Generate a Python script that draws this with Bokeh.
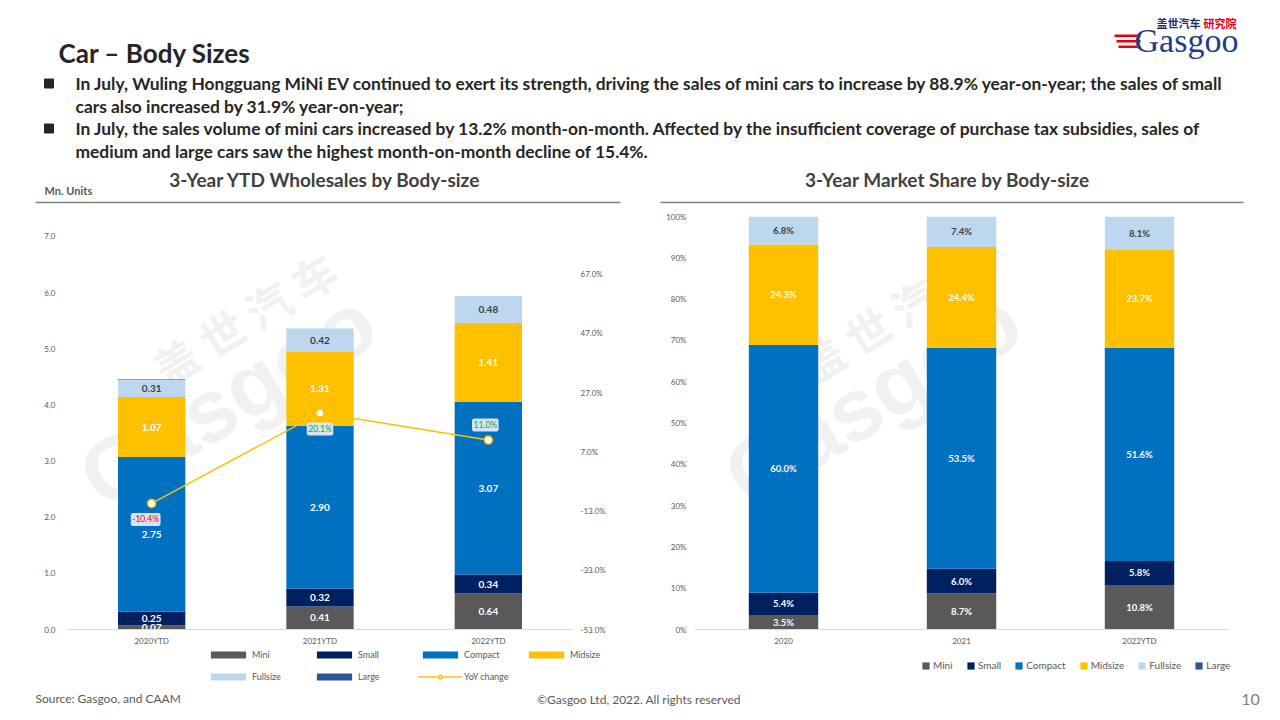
import numpy as np
from bokeh.plotting import figure
from bokeh.layouts import column, row
from bokeh.models import (ColumnDataSource, FactorRange, Range1d, LinearAxis, FixedTicker,
                          PrintfTickFormatter, Legend, LegendItem, LabelSet, Label)
from bokeh.embed import file_html
from bokeh.resources import INLINE
from bokeh.core.properties import value

# ---------------- data ----------------
segments = ["Mini", "Small", "Compact", "Midsize", "Fullsize", "Large"]
colors = ["#595959", "#002060", "#0070c0", "#ffc000", "#bdd7ee", "#2f5597"]

years_l = ["2020YTD", "2021YTD", "2022YTD"]
mini = [0.07, 0.41, 0.64]
small = [0.25, 0.32, 0.34]
compact = [2.75, 2.90, 3.07]
midsize = [1.07, 1.31, 1.41]
fullsize = [0.31, 0.42, 0.48]
large = [0.01, 0.0, 0.0]
yoy = [-10.4, 20.1, 11.0]
yoy_ticks = [-53, -33, -13, 7, 27, 47, 67]
units_ticks = [0, 1, 2, 3, 4, 5, 6, 7]

years_r = ["2020", "2021", "2022YTD"]
mini_s = [3.5, 8.7, 10.8]
small_s = [5.4, 6.0, 5.8]
compact_s = [60.0, 53.5, 51.6]
midsize_s = [24.3, 24.4, 23.7]
fullsize_s = [6.8, 7.4, 8.1]
large_s = [0.0, 0.0, 0.0]
share_ticks = [0, 10, 20, 30, 40, 50, 60, 70, 80, 90, 100]

FONT = "Lato"
GRAY = "#595959"
DARK = "#404040"
WM = "#f1f1f1"


def base_fig(w, h, **kw):
    p = figure(width=w, height=h, output_backend="svg", toolbar_location=None, **kw)
    p.outline_line_color = None
    p.background_fill_color = "white"
    p.border_fill_color = "white"
    return p


def blank_fig(w, h, yr):
    p = base_fig(w, h, x_range=Range1d(0, w), y_range=Range1d(yr, 0),
                 x_axis_type=None, y_axis_type=None, min_border=0)
    p.xgrid.grid_line_color = None
    p.ygrid.grid_line_color = None
    return p


def style_axes(p):
    for ax in p.axis:
        ax.major_tick_line_color = None
        ax.minor_tick_line_color = None
        ax.major_tick_out = 0
        ax.major_tick_in = 0
        ax.minor_tick_out = 0
        ax.major_label_text_font = FONT
        ax.major_label_text_font_size = "8px"
        ax.major_label_text_color = GRAY
    p.xgrid.grid_line_color = None
    p.ygrid.grid_line_color = None


def seg_centers(vals):
    arr = np.array(vals, dtype=float)
    cum = np.cumsum(arr, axis=0)
    return arr, cum - arr / 2


# ---------------- header ----------------
header = blank_fig(1280, 205, 205)

header.add_layout(Label(x=58, y=52, text="Car – Body Sizes", text_font=FONT, text_font_style="bold",
                        text_font_size="26px", text_color="#262626", text_baseline="middle"))
bullets = [
    (83, "In July, Wuling Hongguang MiNi EV continued to exert its strength, driving the sales of mini cars to increase by 88.9% year-on-year; the sales of small", True),
    (106, "cars also increased by 31.9% year-on-year;", False),
    (128, "In July, the sales volume of mini cars increased by 13.2% month-on-month. Affected by the insufficient coverage of purchase tax subsidies, sales of", True),
    (151, "medium and  large cars saw the highest month-on-month decline of 15.4%.", False),
]
for yy, txt, mark in bullets:
    header.add_layout(Label(x=75, y=yy, text=txt, text_font=FONT, text_font_style="bold",
                            text_font_size="17.4px", text_color="#262626", text_baseline="middle"))
    if mark:
        header.scatter([48.5], [yy], marker="square", size=9, color="#262626")

header.add_layout(Label(x=327, y=179, text="3-Year YTD Wholesales  by Body-size", text_font=FONT,
                        text_font_style="bold", text_font_size="19px", text_color=DARK,
                        text_align="center", text_baseline="middle"))
header.add_layout(Label(x=947, y=179, text="3-Year Market Share by Body-size", text_font=FONT,
                        text_font_style="bold", text_font_size="19px", text_color=DARK,
                        text_align="center", text_baseline="middle"))
header.add_layout(Label(x=44, y=190, text="Mn. Units", text_font=FONT, text_font_style="bold",
                        text_font_size="11px", text_color=GRAY, text_baseline="middle"))
header.segment(x0=[35, 660], y0=[202, 202], x1=[620, 1243], y1=[202, 202], line_color="#7f7f7f", line_width=1.5)

# logo
header.add_layout(Label(x=1156, y=22, text="盖世汽车", text_font="Noto Sans CJK SC", text_font_style="bold",
                        text_font_size="11px", text_color="#1b2f6e", text_baseline="middle"))
header.add_layout(Label(x=1203, y=22, text="研究院", text_font="Noto Sans CJK SC", text_font_style="bold",
                        text_font_size="11px", text_color="#e60012", text_baseline="middle"))
header.add_layout(Label(x=1134, y=40, text="Gasgoo", text_font="Liberation Serif",
                        text_font_size="34px", text_color="#1f3c88", text_baseline="middle"))
header.quad(left=[1114, 1116, 1118], right=[1140, 1140, 1140], top=[34, 39.5, 45], bottom=[36.5, 42, 47.5],
            color="#e60012", line_color=None)

# ---------------- left chart ----------------
src_l = ColumnDataSource(dict(year=years_l, Mini=mini, Small=small, Compact=compact,
                              Midsize=midsize, Fullsize=fullsize, Large=large))
left = base_fig(640, 443, x_range=FactorRange(*years_l), y_range=Range1d(0, 7.355),
                min_border_left=67, min_border_right=68, min_border_top=11, min_border_bottom=18)
left.extra_y_ranges = {"yoy": Range1d(-53, 86.5)}

left.add_layout(Label(x=1.05, y=5.55, text="盖 世 汽 车", text_font="Noto Sans CJK SC", text_font_style="bold",
                      text_font_size="44px", text_color=WM, angle=0.55, text_align="center",
                      text_baseline="middle", level="underlay"))
left.add_layout(Label(x=0.95, y=4.1, text="Gasgoo", text_font="Liberation Sans", text_font_style="bold",
                      text_font_size="88px", text_color=WM, angle=0.55, text_align="center",
                      text_baseline="middle", level="underlay"))

bars_l = left.vbar_stack(segments, x="year", width=0.40, color=colors, line_color=None, source=src_l)

vals_l = [mini, small, compact, midsize, fullsize]
arr, cen = seg_centers(vals_l)
lx, ly, lt, lc = [], [], [], []
for i in range(len(vals_l)):
    for j, yr in enumerate(years_l):
        lx.append(yr)
        ly.append(cen[i][j])
        lt.append("%.2f" % arr[i][j])
        lc.append(DARK if i == 4 else "white")
left.add_layout(LabelSet(x="x", y="y", text="t", text_color="c", source=ColumnDataSource(dict(x=lx, y=ly, t=lt, c=lc)),
                         text_align="center", text_baseline="middle", text_font=value(FONT),
                         text_font_style="bold", text_font_size="10px"))

line_r = left.line(x=years_l, y=yoy, y_range_name="yoy", line_color="#ffc000", line_width=1.5)
pts_r = left.scatter(x=years_l, y=yoy, y_range_name="yoy", marker="circle", size=8, fill_color="white",
                     line_color="#ffc000", line_width=1.5)
yoy_src = ColumnDataSource(dict(x=years_l, y=yoy, t=["%.1f%%" % v for v in yoy],
                                c=["#ff0000" if v < 0 else "#00b050" for v in yoy],
                                off=[-16, -16, 15], xo=[-6, 0, -3]))
left.add_layout(LabelSet(x="x", y="y", text="t", text_color="c", y_offset="off", x_offset="xo",
                         y_range_name="yoy", source=yoy_src, text_align="center", text_baseline="middle",
                         text_font=value(FONT), text_font_size="8.5px", background_fill_color="#dae3f3",
                         border_line_color="#dae3f3", border_line_width=3))

left.yaxis.ticker = FixedTicker(ticks=units_ticks)
left.yaxis.formatter = PrintfTickFormatter(format="%.1f")
left.yaxis.axis_line_color = None
left.yaxis.major_label_standoff = 12
ax_r = LinearAxis(y_range_name="yoy", ticker=FixedTicker(ticks=yoy_ticks),
                  formatter=PrintfTickFormatter(format="%.1f%%"))
ax_r.axis_line_color = None
ax_r.major_label_standoff = 8
left.add_layout(ax_r, "right")
left.xaxis.axis_line_color = "#d9d9d9"
left.xaxis.major_label_standoff = 6
style_axes(left)

# ---------------- right chart ----------------
src_r = ColumnDataSource(dict(year=years_r, Mini=mini_s, Small=small_s, Compact=compact_s,
                              Midsize=midsize_s, Fullsize=fullsize_s, Large=large_s))
right = base_fig(640, 443, x_range=FactorRange(*years_r), y_range=Range1d(0, 100),
                 min_border_left=54, min_border_right=52, min_border_top=11, min_border_bottom=18)
right.add_layout(Label(x=1.1, y=76, text="盖 世 汽 车", text_font="Noto Sans CJK SC", text_font_style="bold",
                       text_font_size="44px", text_color=WM, angle=0.55, text_align="center",
                       text_baseline="middle", level="underlay"))
right.add_layout(Label(x=1.0, y=56, text="Gasgoo", text_font="Liberation Sans", text_font_style="bold",
                       text_font_size="88px", text_color=WM, angle=0.55, text_align="center",
                       text_baseline="middle", level="underlay"))
bars_r = right.vbar_stack(segments, x="year", width=0.39, color=colors, line_color=None, source=src_r)

vals_r = [mini_s, small_s, compact_s, midsize_s, fullsize_s]
arr, cen = seg_centers(vals_r)
rx, ry, rt, rc = [], [], [], []
for i in range(len(vals_r)):
    for j, yr in enumerate(years_r):
        rx.append(yr)
        ry.append(cen[i][j])
        rt.append("%.1f%%" % arr[i][j])
        rc.append(DARK if i == 4 else "white")
right.add_layout(LabelSet(x="x", y="y", text="t", text_color="c", source=ColumnDataSource(dict(x=rx, y=ry, t=rt, c=rc)),
                          text_align="center", text_baseline="middle", text_font=value(FONT),
                          text_font_style="bold", text_font_size="9.5px"))
right.yaxis.ticker = FixedTicker(ticks=share_ticks)
right.yaxis.formatter = PrintfTickFormatter(format="%d%%")
right.yaxis.axis_line_color = None
right.yaxis.major_label_standoff = 8
right.xaxis.axis_line_color = "#d9d9d9"
right.xaxis.major_label_standoff = 6
style_axes(right)

# ---------------- legend strips (swatch renderers kept off-canvas) ----------------
OFF = [-500]
leg_fig_l = blank_fig(640, 37, 37)
sw_l = [leg_fig_l.vbar(x=OFF, top=OFF, width=1, color=c, line_color=None) for c in colors]
sw_line = leg_fig_l.line(x=[-500, -490], y=[-500, -500], line_color="#ffc000", line_width=1.5)
sw_pts = leg_fig_l.scatter(x=OFF, y=OFF, marker="circle", size=8, fill_color="white",
                           line_color="#ffc000", line_width=1.5)
items_l = [LegendItem(label=s, renderers=[r]) for s, r in zip(segments, sw_l)]
items_l.append(LegendItem(label="YoY change", renderers=[sw_line, sw_pts]))
leg_l = Legend(items=items_l, orientation="horizontal", ncols=4, glyph_width=44, glyph_height=9,
               label_width=52, label_height=14, label_standoff=2, spacing=8, padding=0, margin=0,
               border_line_color=None, background_fill_alpha=0, label_text_font=FONT,
               label_text_font_size="9px", label_text_color=GRAY, location=(206, 2))
leg_fig_l.add_layout(leg_l, "center")

leg_fig_r = blank_fig(640, 37, 37)
sw_r = [leg_fig_r.vbar(x=OFF, top=OFF, width=1, color=c, line_color=None) for c in colors]
items_r = [LegendItem(label=s, renderers=[r]) for s, r in zip(segments, sw_r)]
leg_r = Legend(items=items_r, orientation="horizontal", glyph_width=9, glyph_height=9,
               label_height=10, label_standoff=3, spacing=13, padding=0, margin=0,
               border_line_color=None, background_fill_alpha=0, label_text_font=FONT,
               label_text_font_size="10px", label_text_color=GRAY, location=(281, 14))
leg_fig_r.add_layout(leg_r, "center")

# ---------------- footer ----------------
footer = blank_fig(1280, 35, 35)
footer.add_layout(Label(x=35, y=13, text="Source: Gasgoo, and CAAM", text_font=FONT, text_font_size="12px",
                        text_color=GRAY, text_baseline="middle"))
footer.add_layout(Label(x=640, y=14, text="©Gasgoo Ltd,  2022. All rights reserved", text_font=FONT,
                        text_font_size="12px", text_color=GRAY, text_baseline="middle", text_align="center"))
footer.add_layout(Label(x=1250, y=14, text="10", text_font=FONT, text_font_size="16px",
                        text_color="#7f7f7f", text_baseline="middle", text_align="center"))

page = column(header, row(left, right, spacing=0), row(leg_fig_l, leg_fig_r, spacing=0), footer, spacing=0)
open("out.html", "w").write(file_html(page, INLINE))
